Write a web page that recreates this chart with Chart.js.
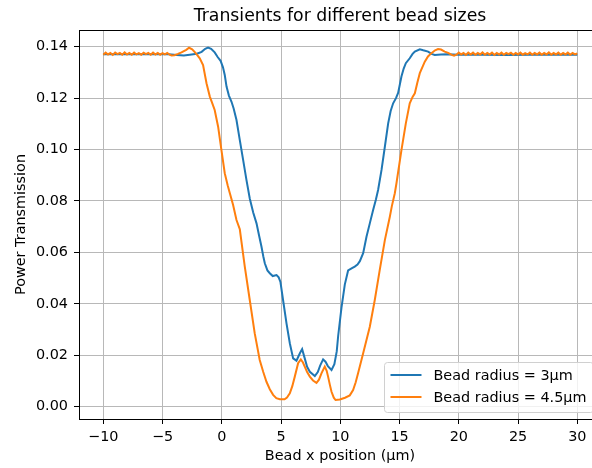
<!DOCTYPE html>
<html>
<head>
<meta charset="utf-8">
<script src="https://cdn.jsdelivr.net/npm/chart.js@4.4.0/dist/chart.umd.min.js"></script>
<style>
  html, body { margin: 0; padding: 0; overflow: hidden; background: #fff; }
  canvas { display: block; }
</style>
</head>
<body>
<canvas id="chart" width="601" height="468"></canvas>
<script>
const chartTitle = 'Transients for different bead sizes';
const xTicks = [-10, -5, 0, 5, 10, 15, 20, 25, 30];
const yTicks = [0, 0.02, 0.04, 0.06, 0.08, 0.10, 0.12, 0.14];
const seriesLabels = ['Bead radius = 3μm', 'Bead radius = 4.5μm'];
const seriesColors = ['#1f77b4', '#ff7f0e'];

// radius 3um
const blueX = [-10, -8, -6, -4.5, -3.8, -3.2, -2.7, -2.1, -1.7, -1.4, -1.16, -0.9, -0.6, -0.35, -0.1,
  0.1, 0.25, 0.4, 0.6, 0.82, 1.0, 1.24, 1.52, 1.8, 2.08, 2.36, 2.65, 2.93, 3.15, 3.35, 3.5, 3.63, 3.85,
  4.05, 4.3, 4.62, 4.8, 4.95, 5.17, 5.46, 5.74, 6.02, 6.3, 6.59, 6.78, 7.0, 7.2, 7.43, 7.85, 8.1, 8.3,
  8.55, 8.75, 8.95, 9.26, 9.5, 9.7, 9.82, 10.1, 10.38, 10.66, 10.95, 11.22, 11.45, 11.65, 11.93, 12.21,
  12.49, 12.77, 13.0, 13.19, 13.48, 13.76, 14.04, 14.25, 14.46, 14.7, 14.88, 15.16, 15.35, 15.53, 15.86,
  16.1, 16.29, 16.71, 17.0, 17.41, 17.7, 17.97, 18.5, 19, 20, 22, 24, 26, 28, 30];
const blueY = [0.1371, 0.1371, 0.1371, 0.1371, 0.1368, 0.1366, 0.1369, 0.1373, 0.1380, 0.1392, 0.1397, 0.1392, 0.1378, 0.1360, 0.1345,
  0.1320, 0.1290, 0.1245, 0.1210, 0.1186, 0.1160, 0.1115, 0.1037, 0.0960, 0.0882, 0.0810, 0.0755, 0.0713, 0.0665, 0.0622, 0.0585, 0.0558, 0.0530,
  0.0519, 0.0508, 0.0512, 0.0503, 0.0485, 0.0415, 0.0324, 0.0247, 0.0188, 0.0179, 0.0208, 0.0224, 0.0188, 0.0155, 0.0136, 0.0119, 0.0135, 0.0160,
  0.0184, 0.0175, 0.0158, 0.0143, 0.0165, 0.0215, 0.0275, 0.0385, 0.0475, 0.0530, 0.0538, 0.0545, 0.0553, 0.0566, 0.0597, 0.0661,
  0.0713, 0.0765, 0.0805, 0.0843, 0.0921, 0.1011, 0.1102, 0.1150, 0.1180, 0.1200, 0.1220, 0.1284, 0.1315, 0.1336, 0.1355,
  0.1372, 0.1381, 0.1390, 0.1386, 0.1381, 0.1372, 0.1368, 0.1370, 0.1371, 0.1369, 0.1369, 0.1368, 0.1369, 0.1369, 0.1369];

// radius 4.5um (noisy flats)
const orangeX = [-10, -9.8, -9.6, -9.4, -9.2, -9, -8.8, -8.6, -8.4, -8.2, -8, -7.8, -7.6, -7.4, -7.2, -7, -6.8, -6.6,
  -6.4, -6.2, -6, -5.8, -5.6, -5.4, -5.2, -5, -4.8, -4.6, -4.4,
  -4.25, -4.0, -3.7, -3.4, -3.0, -2.76, -2.5, -2.2, -1.86, -1.58, -1.29, -1.01, -0.8, -0.6, -0.31, -0.03,
  0.25, 0.5, 0.68, 0.95, 1.24, 1.52, 1.94, 2.36, 2.78, 3.2, 3.5, 3.77, 4.05, 4.33, 4.6, 4.9, 5.3, 5.5,
  5.74, 5.95, 6.16, 6.44, 6.67, 6.85, 7.0, 7.2, 7.43, 7.7, 7.99, 8.2, 8.41, 8.69, 8.85, 8.97, 9.12, 9.26,
  9.45, 9.6, 9.96, 10.4, 10.8, 11.08, 11.3, 11.5, 11.93, 12.49, 12.91, 13.33, 13.76, 14.18, 14.35, 14.6,
  14.74, 15.16, 15.53, 15.86, 16.1, 16.29, 16.5, 16.71, 17.13, 17.4, 17.69, 18.0, 18.25, 18.5, 18.81,
  19.1, 19.4, 19.6,
  19.8, 20, 20.2, 20.4, 20.6, 20.8, 21, 21.2, 21.4, 21.6, 21.8, 22, 22.2, 22.4, 22.6, 22.8, 23, 23.2,
  23.4, 23.6, 23.8, 24, 24.2, 24.4, 24.6, 24.8, 25, 25.2, 25.4, 25.6, 25.8, 26, 26.2, 26.4, 26.6, 26.8,
  27, 27.2, 27.4, 27.6, 27.8, 28, 28.2, 28.4, 28.6, 28.8, 29, 29.2, 29.4, 29.6, 29.8, 30];
const orangeY = [0.1369, 0.1377, 0.1370, 0.1376, 0.1368, 0.1377, 0.1371, 0.1376, 0.1369, 0.1378, 0.1370, 0.1376, 0.1369, 0.1377, 0.1370, 0.1375, 0.1369, 0.1377,
  0.1371, 0.1376, 0.1369, 0.1377, 0.1370, 0.1376, 0.1369, 0.1375, 0.1370, 0.1376, 0.1369,
  0.1366, 0.1367, 0.1372, 0.1378, 0.1388, 0.1396, 0.1390, 0.1375, 0.1355, 0.1329, 0.1258, 0.1206, 0.1180, 0.1154, 0.1089, 0.0998,
  0.0908, 0.0860, 0.0830, 0.0785, 0.0726, 0.0690, 0.0545, 0.0415, 0.0285, 0.0182, 0.0135, 0.0097, 0.0068, 0.0046, 0.0033, 0.0029, 0.0029, 0.0036,
  0.0052, 0.0080, 0.0117, 0.0169, 0.0184, 0.0172, 0.0156, 0.0135, 0.0117, 0.0102, 0.0093, 0.0105, 0.0130, 0.0156, 0.0140, 0.0117, 0.0085, 0.0058,
  0.0035, 0.0026, 0.0028, 0.0035, 0.0044, 0.0065, 0.0095, 0.0130, 0.0208, 0.0311, 0.0415, 0.0532, 0.0648, 0.0739, 0.0780, 0.0830,
  0.0869, 0.0998, 0.1102, 0.1180, 0.1205, 0.1219, 0.1260, 0.1297, 0.1342, 0.1362, 0.1375, 0.1386, 0.1391, 0.1389, 0.1381,
  0.1376, 0.1368, 0.1365,
  0.1369, 0.1377, 0.1370, 0.1376, 0.1368, 0.1377, 0.1370, 0.1377, 0.1369, 0.1376, 0.1370, 0.1378, 0.1369, 0.1376, 0.1370, 0.1377, 0.1368, 0.1376,
  0.1370, 0.1377, 0.1369, 0.1376, 0.1371, 0.1377, 0.1369, 0.1376, 0.1370, 0.1377, 0.1369, 0.1375, 0.1370, 0.1377, 0.1369, 0.1376, 0.1370, 0.1377,
  0.1369, 0.1376, 0.1370, 0.1378, 0.1369, 0.1376, 0.1370, 0.1377, 0.1369, 0.1376, 0.1370, 0.1377, 0.1369, 0.1376, 0.1370, 0.1374];

const FONT = 'DejaVu Sans';
Chart.defaults.font.family = FONT;
Chart.defaults.color = '#000';

function points(xs, ys) {
  return xs.map((x, i) => ({ x: x, y: ys[i] }));
}

// matplotlib style box round the axes
const spines = {
  id: 'spines',
  afterDatasetsDraw(chart) {
    const { ctx, chartArea: a } = chart;
    ctx.save();
    ctx.strokeStyle = '#000';
    ctx.lineWidth = 1;
    ctx.strokeRect(Math.floor(a.left) + 0.5, Math.floor(a.top) + 0.5,
      Math.round(a.right - a.left), Math.round(a.bottom - a.top));
    ctx.restore();
  }
};

// title centred over the axes, not the canvas
const axesTitle = {
  id: 'axesTitle',
  afterDraw(chart) {
    const { ctx, chartArea: a } = chart;
    ctx.save();
    ctx.font = '17.3px "' + FONT + '"';
    ctx.fillStyle = '#000';
    ctx.textAlign = 'center';
    ctx.textBaseline = 'alphabetic';
    ctx.fillText(chartTitle, (a.left + a.right) / 2, a.top - 9);
    ctx.restore();
  }
};

// legend in the lower right corner, inside the axes
const legendBox = {
  id: 'legendBox',
  afterDraw(chart) {
    const { ctx, chartArea: a } = chart;
    ctx.save();
    ctx.font = '14.4px "' + FONT + '"';
    const textW = Math.max(...seriesLabels.map(t => ctx.measureText(t).width));
    const padL = 6, handle = 31, gap = 12, padR = 7, rowH = 22;
    const right = a.right - 7.5, bottom = a.bottom - 7.5;
    const w = padL + handle + gap + textW + padR;
    const h = 50;
    const left = right - w, top = bottom - h;
    ctx.beginPath();
    ctx.roundRect(Math.round(left) + 0.5, Math.round(top) + 0.5, Math.round(w), Math.round(h), 3);
    ctx.fillStyle = 'rgba(255,255,255,0.8)';
    ctx.fill();
    ctx.strokeStyle = '#d0d0d0';
    ctx.lineWidth = 1;
    ctx.stroke();
    seriesLabels.forEach((label, i) => {
      const y = top + 13.5 + i * rowH;
      ctx.beginPath();
      ctx.moveTo(left + padL, y);
      ctx.lineTo(left + padL + handle, y);
      ctx.strokeStyle = seriesColors[i];
      ctx.lineWidth = 2;
      ctx.stroke();
      ctx.fillStyle = '#000';
      ctx.textBaseline = 'middle';
      ctx.fillText(label, left + padL + handle + gap, y + 1);
    });
    ctx.restore();
  }
};

new Chart(document.getElementById('chart'), {
  type: 'line',
  data: {
    datasets: [
      {
        label: seriesLabels[0],
        data: points(blueX, blueY),
        borderColor: seriesColors[0],
        borderWidth: 2,
        pointRadius: 0,
        tension: 0,
        order: 1
      },
      {
        label: seriesLabels[1],
        data: points(orangeX, orangeY),
        borderColor: seriesColors[1],
        borderWidth: 2,
        pointRadius: 0,
        tension: 0,
        order: 0
      }
    ]
  },
  options: {
    animation: false,
    responsive: false,
    devicePixelRatio: 1,
    layout: { padding: { top: 30, left: 0, right: 0, bottom: 0 } },
    plugins: {
      legend: { display: false },
      tooltip: { enabled: false },
      title: { display: false }
    },
    scales: {
      x: {
        type: 'linear',
        min: -12.05,
        max: 32,
        afterBuildTicks: s => { s.ticks = xTicks.map(v => ({ value: v })); },
        afterFit: s => { s.height = 49; },
        border: { display: false },
        grid: { color: '#b8b8b8', lineWidth: 1, tickColor: '#000', tickLength: 5 },
        ticks: {
          autoSkip: false,
          maxRotation: 0,
          padding: 5,
          font: { size: 14.4 },
          color: '#000',
          callback: v => (v < 0 ? '\u2212' + Math.abs(v) : String(v))
        },
        title: {
          display: true,
          text: 'Bead x position (μm)',
          font: { size: 14.4 },
          color: '#000',
          padding: { top: 0, bottom: 3.4 }
        }
      },
      y: {
        min: -0.00478,
        max: 0.1465,
        afterBuildTicks: s => { s.ticks = yTicks.map(v => ({ value: v })); },
        afterFit: s => { s.width = 79; },
        border: { display: false },
        grid: { color: '#b8b8b8', lineWidth: 1, tickColor: '#000', tickLength: 5 },
        ticks: {
          autoSkip: false,
          padding: 6,
          font: { size: 14.4 },
          color: '#000',
          callback: v => v.toFixed(2)
        },
        title: {
          display: true,
          text: 'Power Transmission',
          font: { size: 14.4 },
          color: '#000',
          padding: { top: 13, bottom: 0 }
        }
      }
    }
  },
  plugins: [spines, axesTitle, legendBox]
});
</script>
</body>
</html>
